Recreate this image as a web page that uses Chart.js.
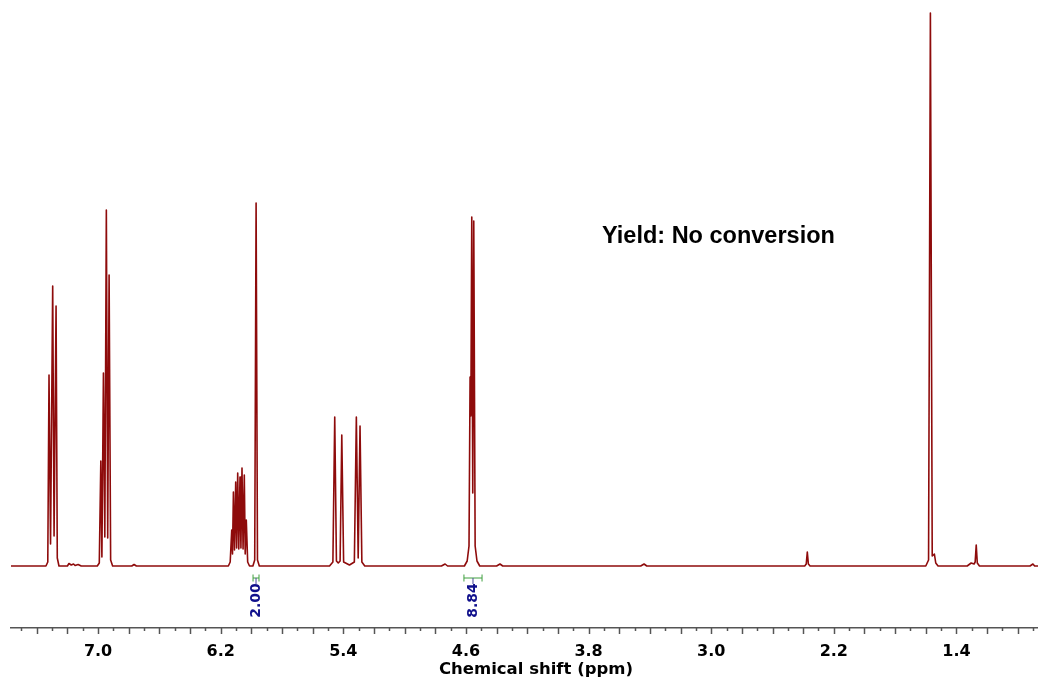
<!DOCTYPE html>
<html>
<head>
<meta charset="utf-8">
<title>1H NMR spectrum</title>
<script src="https://cdn.jsdelivr.net/npm/chart.js@4.4.1/dist/chart.umd.min.js"></script>
<style>
  html, body { margin: 0; padding: 0; background: #fff; }
  #wrap { position: relative; width: 1038px; height: 683px; }
  #note {
    position: absolute; left: 602px; top: 224px;
    font: bold 23.5px "Liberation Sans", Arial, sans-serif; line-height: 23px;
    color: #000; white-space: nowrap;
  }
</style>
</head>
<body>
<div id="wrap">
  <canvas id="nmr" width="1038" height="683"></canvas>
  <div id="note">Yield: No conversion</div>
</div>
<script>
// spectrum: chemical shift (ppm) and signal height (arbitrary units)
const shiftPpm = [
  7.60, 7.34, 7.328, 7.320, 7.310, 7.296, 7.287, 7.274, 7.266, 7.255,
  7.20, 7.19, 7.175, 7.16, 7.15, 7.13, 7.11,
  7.005, 6.992, 6.982, 6.975, 6.965, 6.956, 6.946, 6.937, 6.928, 6.918, 6.905,
  6.78, 6.765, 6.75,
  6.15, 6.138, 6.128, 6.123, 6.117, 6.110, 6.102, 6.096, 6.089, 6.082, 6.074, 6.068, 6.061, 6.054, 6.046, 6.040, 6.033, 6.024, 6.012,
  5.99, 5.978, 5.969, 5.960, 5.948,
  5.49, 5.468, 5.456, 5.445, 5.433, 5.421, 5.410, 5.398, 5.36, 5.328, 5.315, 5.303, 5.291, 5.279, 5.26,
  4.76, 4.736, 4.72,
  4.61, 4.592, 4.580, 4.573, 4.568, 4.562, 4.5555, 4.549, 4.540, 4.528, 4.51,
  4.40, 4.378, 4.36,
  3.46, 3.438, 3.42,
  2.39, 2.380, 2.373, 2.366, 2.355,
  1.60, 1.582, 1.570, 1.558, 1.544, 1.535, 1.52,
  1.33, 1.304, 1.285, 1.278, 1.271, 1.264, 1.25,
  0.92, 0.901, 0.89, 0.85
];
const intensity = [
  0, 0, 4, 191, 22, 280, 30, 260, 8, 0,
  0, 2.5, 1, 2, 0.5, 1.5, 0,
  0, 3, 105, 9, 193, 29, 356, 28, 291, 6, 0,
  0, 1.5, 0,
  0, 4, 36, 12, 74, 16, 84, 18, 93, 17, 89, 18, 98, 17, 91, 12, 46, 4, 0,
  0, 6, 363, 6, 0,
  0, 4, 149, 5, 3, 5, 131, 4, 1, 4, 149, 8, 140, 4, 0,
  0, 2, 0,
  0, 5, 20, 189, 150, 349, 73, 345, 20, 5, 0,
  0, 2, 0,
  0, 2, 0,
  0, 2, 14, 2, 0,
  0, 6, 553, 10, 12, 3, 0,
  0, 3, 2, 4, 21, 3, 0,
  0, 2, 0, 0
];

// axis labels
const tickLabels = [7.0, 6.2, 5.4, 4.6, 3.8, 3.0, 2.2, 1.4];
const axisTitle = 'Chemical shift (ppm)';

// integrals: ppm range and value
const integralFrom = [5.989, 4.613];
const integralTo = [5.950, 4.495];
const integralValues = [2.00, 8.84];

const points = shiftPpm.map((v, i) => ({ x: v, y: intensity[i] }));

// minor / major tick marks, integrals and axis title
const extrasPlugin = {
  id: 'extras',
  afterDraw(chart) {
    const ctx = chart.ctx;
    const xs = chart.scales.x;
    const axisY = xs.top;
    ctx.save();

    // tick marks every 0.1 ppm, longer every 0.2
    ctx.strokeStyle = '#555';
    ctx.lineWidth = 1.5;
    for (let k = Math.ceil(xs.min * 10); k <= Math.floor(xs.max * 10); k++) {
      const px = Math.round(xs.getPixelForValue(k / 10)) + 0.5;
      const len = (k % 2 === 0) ? 6 : 3;
      ctx.beginPath();
      ctx.moveTo(px, axisY);
      ctx.lineTo(px, axisY + len);
      ctx.stroke();
    }

    // integral brackets and values
    for (let i = 0; i < integralValues.length; i++) {
      const x1 = xs.getPixelForValue(integralFrom[i]);
      const x2 = xs.getPixelForValue(integralTo[i]);
      const xc = (x1 + x2) / 2;
      const by = 578;
      ctx.strokeStyle = '#3f9f3f';
      ctx.lineWidth = 1;
      ctx.beginPath();
      ctx.moveTo(x1, by); ctx.lineTo(x2, by);
      ctx.moveTo(x1, by - 3.5); ctx.lineTo(x1, by + 3.5);
      ctx.moveTo(x2, by - 3.5); ctx.lineTo(x2, by + 3.5);
      ctx.stroke();
      ctx.strokeStyle = '#4a4a9c';
      ctx.beginPath();
      ctx.moveTo(xc, by); ctx.lineTo(xc, by + 6);
      ctx.stroke();

      ctx.save();
      ctx.translate(xc, 600.5);
      ctx.rotate(-Math.PI / 2);
      ctx.fillStyle = '#10108c';
      ctx.font = 'bold 14px "DejaVu Sans"';
      ctx.textAlign = 'center';
      ctx.textBaseline = 'middle';
      ctx.fillText(integralValues[i].toFixed(2), 0, 0);
      ctx.restore();
    }

    // axis title
    ctx.fillStyle = '#000';
    ctx.font = 'bold 16.5px "DejaVu Sans"';
    ctx.textAlign = 'center';
    ctx.textBaseline = 'middle';
    ctx.fillText(axisTitle, 536, 670);
    ctx.restore();
  }
};

new Chart(document.getElementById('nmr'), {
  type: 'line',
  data: {
    datasets: [{
      label: '1H NMR',
      data: points,
      borderColor: '#8e0b0b',
      borderWidth: 1.6,
      borderJoinStyle: 'round',
      pointRadius: 0,
      fill: false,
      tension: 0
    }]
  },
  options: {
    responsive: false,
    animation: false,
    devicePixelRatio: 1,
    layout: { padding: { left: 11, right: 0, top: 0, bottom: 0 } },
    plugins: { legend: { display: false }, tooltip: { enabled: false } },
    scales: {
      x: {
        type: 'linear',
        reverse: true,
        min: 0.868,
        max: 7.568,
        grid: { display: false, drawTicks: false },
        border: { display: true, color: '#555', width: 1.5 },
        afterBuildTicks: s => { s.ticks = tickLabels.map(v => ({ value: v })); },
        afterFit: s => { s.height = 55; },
        ticks: {
          padding: 14,
          color: '#000',
          autoSkip: false,
          maxRotation: 0,
          font: { family: 'DejaVu Sans', size: 16, weight: 'bold' },
          callback: v => Number(v).toFixed(1)
        }
      },
      y: {
        display: false,
        min: -62,
        max: 566
      }
    }
  },
  plugins: [extrasPlugin]
});
</script>
</body>
</html>
